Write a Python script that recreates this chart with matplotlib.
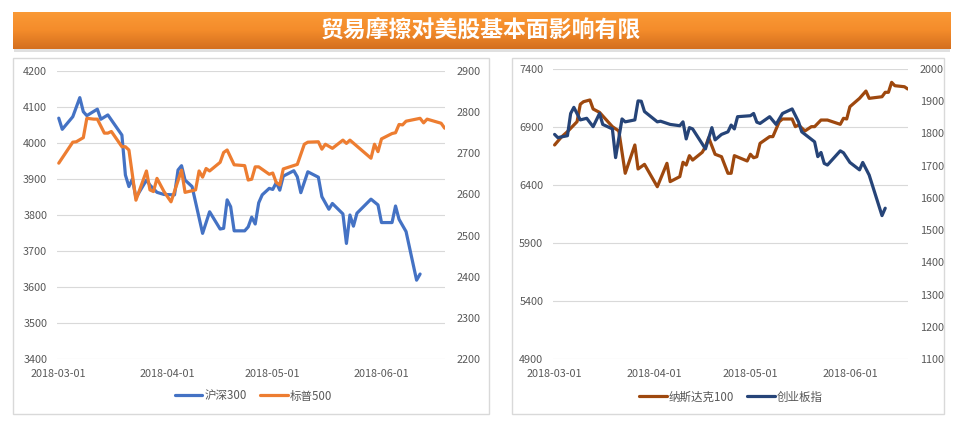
import matplotlib
matplotlib.use("Agg")
import matplotlib.pyplot as plt
import matplotlib.dates as mdates
from matplotlib.patches import Rectangle
from matplotlib.colors import LinearSegmentedColormap
import numpy as np
import pandas as pd

plt.rcParams['font.family'] = ['Noto Sans CJK SC', 'DejaVu Sans']

# ---------------- data ----------------
title = "贸易摩擦对美股基本面影响有限"
x_ticks = ["2018-03-01", "2018-04-01", "2018-05-01", "2018-06-01"]

hs300_dates = ["03-01", "03-02", "03-05", "03-07", "03-08", "03-09", "03-12", "03-13", "03-15", "03-19",
               "03-20", "03-21", "03-22", "03-23", "03-26", "03-27", "03-29", "03-31", "04-03", "04-04",
               "04-05", "04-06", "04-08", "04-11", "04-13", "04-16", "04-17", "04-18", "04-19", "04-20",
               "04-23", "04-24", "04-25", "04-26", "04-27", "04-28", "04-30", "05-01", "05-02", "05-03",
               "05-04", "05-07", "05-08", "05-09", "05-11", "05-14", "05-15", "05-17", "05-18", "05-21",
               "05-22", "05-23", "05-24", "05-25", "05-29", "05-31", "06-01", "06-04", "06-05", "06-06",
               "06-08", "06-11", "06-12"]
hs300_values = [4069, 4038, 4073, 4126, 4087, 4076, 4094, 4066, 4078, 4022,
                3911, 3879, 3900, 3848, 3897, 3883, 3863, 3857, 3856, 3925,
                3937, 3897, 3879, 3749, 3809, 3761, 3763, 3842, 3823, 3756,
                3756, 3767, 3794, 3775, 3834, 3856, 3874, 3871, 3890, 3869,
                3908, 3923, 3906, 3862, 3920, 3905, 3851, 3816, 3832, 3803,
                3721, 3800, 3769, 3805, 3844, 3828, 3779, 3779, 3825, 3788,
                3754, 3619, 3636]

sp500_dates = ["03-01", "03-05", "03-06", "03-08", "03-09", "03-11", "03-12", "03-14", "03-15", "03-16",
               "03-19", "03-20", "03-21", "03-23", "03-26", "03-27", "03-28", "03-29", "03-31", "04-02",
               "04-05", "04-06", "04-09", "04-10", "04-11", "04-12", "04-13", "04-16", "04-17", "04-18",
               "04-20", "04-23", "04-24", "04-25", "04-26", "04-27", "04-30", "05-01", "05-02", "05-03",
               "05-04", "05-08", "05-10", "05-11", "05-14", "05-15", "05-16", "05-18", "05-21", "05-22",
               "05-23", "05-29", "05-30", "05-31", "06-01", "06-04", "06-05", "06-06", "06-07", "06-08",
               "06-12", "06-13", "06-14", "06-18", "06-19"]
sp500_values = [2676, 2727, 2728, 2738, 2785, 2783, 2783, 2749, 2749, 2753,
                2716, 2716, 2708, 2586, 2657, 2611, 2607, 2639, 2607, 2582,
                2659, 2605, 2611, 2657, 2642, 2663, 2657, 2678, 2702, 2708,
                2672, 2670, 2635, 2637, 2667, 2667, 2649, 2652, 2629, 2623,
                2662, 2673, 2722, 2727, 2728, 2710, 2722, 2712, 2732, 2724,
                2732, 2688, 2722, 2704, 2735, 2748, 2750, 2770, 2769, 2778,
                2785, 2774, 2783, 2773, 2761]

ndx_dates = ["03-01", "03-03", "03-05", "03-08", "03-09", "03-10", "03-12", "03-13", "03-15", "03-19",
             "03-21", "03-23", "03-26", "03-27", "03-29", "04-02", "04-05", "04-06", "04-09", "04-10",
             "04-11", "04-12", "04-13", "04-16", "04-17", "04-18", "04-20", "04-22", "04-24", "04-25",
             "04-26", "04-30", "05-01", "05-02", "05-03", "05-04", "05-07", "05-08", "05-10", "05-11",
             "05-14", "05-15", "05-16", "05-18", "05-20", "05-21", "05-23", "05-25", "05-29", "05-30",
             "05-31", "06-01", "06-04", "06-06", "06-07", "06-11", "06-12", "06-13", "06-14", "06-15",
             "06-18", "06-19"]
ndx_values = [6745, 6810, 6860, 6946, 7096, 7118, 7133, 7055, 7026, 6903,
              6866, 6501, 6745, 6538, 6578, 6385, 6587, 6429, 6472, 6596,
              6572, 6653, 6615, 6682, 6730, 6808, 6665, 6644, 6501, 6501,
              6653, 6607, 6665, 6635, 6644, 6759, 6817, 6817, 6946, 6969,
              6969, 6903, 6917, 6866, 6903, 6903, 6960, 6960, 6923, 6975,
              6969, 7075, 7147, 7210, 7147, 7161, 7199, 7199, 7285, 7256,
              7247, 7228]

cyb_dates = ["03-01", "03-02", "03-05", "03-06", "03-07", "03-09", "03-11", "03-13", "03-15", "03-16",
             "03-19", "03-20", "03-22", "03-23", "03-26", "03-27", "03-28", "03-29", "04-02", "04-03",
             "04-06", "04-09", "04-10", "04-11", "04-12", "04-13", "04-17", "04-19", "04-20", "04-22",
             "04-24", "04-25", "04-26", "04-27", "05-01", "05-02", "05-03", "05-04", "05-07", "05-09",
             "05-11", "05-14", "05-16", "05-17", "05-21", "05-22", "05-23", "05-24", "05-25", "05-29",
             "05-30", "06-01", "06-04", "06-05", "06-07", "06-11", "06-12"]
cyb_values = [1797, 1787, 1793, 1862, 1881, 1842, 1847, 1821, 1862, 1828,
              1814, 1725, 1845, 1836, 1842, 1901, 1900, 1868, 1836, 1838,
              1828, 1824, 1836, 1783, 1818, 1814, 1752, 1818, 1780, 1797,
              1805, 1826, 1814, 1852, 1855, 1862, 1835, 1831, 1852, 1828,
              1862, 1876, 1836, 1805, 1774, 1728, 1741, 1707, 1702, 1746,
              1740, 1710, 1687, 1710, 1671, 1545, 1568]

labels_left = ["沪深300", "标普500"]
labels_right = ["纳斯达克100", "创业板指"]


def to_dates(lst):
    return pd.to_datetime(["2018-" + s for s in lst])


# ---------------- figure ----------------
W, H = 967, 422
fig = plt.figure(figsize=(W / 100, H / 100), dpi=100)
fig.patch.set_facecolor("white")


def fx(px):
    return px / W


def fy(py):
    return 1 - py / H


# banner shadow
fig.patches.append(Rectangle((fx(14), fy(52)), fx(950 - 14), (52 - 14) / H,
                             transform=fig.transFigure, facecolor="#BBBBBB",
                             edgecolor="none", alpha=0.45, zorder=-3))
# banner gradient
bax = fig.add_axes([fx(12.7), fy(49.3), fx(950 - 12.7), (49.3 - 11.7) / H], zorder=1)
cmap = LinearSegmentedColormap.from_list("ban", ["#FA9A36", "#F48C2B", "#D46F1E"])
bax.imshow(np.linspace(0, 1, 64).reshape(-1, 1), aspect="auto", cmap=cmap,
           extent=[0, 1, 0, 1], origin="upper")
bax.set_axis_off()
fig.text(fx(481), fy(31), title, ha="center", va="center", color="white",
         fontsize=16.5, fontweight="bold", zorder=5)

# panels
for (x0, x1) in [(13, 489), (512, 944)]:
    fig.patches.append(Rectangle((fx(x0), fy(414)), fx(x1 - x0), (414 - 58) / H,
                                 transform=fig.transFigure, facecolor="white",
                                 edgecolor="#D9D9D9", lw=1.0, zorder=-2))

tick_color = "#595959"
grid_color = "#D9D9D9"
fs = 7.8
fs_leg = 8.3
xt = pd.to_datetime(x_ticks)
xlim = (mdates.date2num(pd.Timestamp("2018-03-01")) - 0.5,
        mdates.date2num(pd.Timestamp("2018-06-19")) + 0.1)


def style(ax, axb, ylim, yticks, ylimb, yticksb):
    for a in (ax, axb):
        for s in a.spines.values():
            s.set_visible(False)
        a.tick_params(length=0, labelsize=fs, labelcolor=tick_color)
    ax.set_ylim(*ylim)
    ax.set_yticks(yticks)
    axb.set_ylim(*ylimb)
    axb.set_yticks(yticksb)
    ax.grid(axis="y", color=grid_color, lw=0.8)
    ax.set_axisbelow(True)
    ax.set_xlim(*xlim)
    ax.set_xticks(xt)
    ax.xaxis.set_major_formatter(mdates.DateFormatter("%Y-%m-%d"))
    ax.tick_params(axis="y", pad=7)
    axb.tick_params(axis="y", pad=8.5)
    ax.tick_params(axis="x", pad=7)
    ax.patch.set_alpha(0)


# left chart
ax1 = fig.add_axes([fx(57), fy(359), fx(445 - 57), (359 - 71) / H])
ax1b = ax1.twinx()
l1, = ax1.plot(to_dates(hs300_dates), hs300_values, color="#4472C4", lw=2.3,
               solid_joinstyle="round", solid_capstyle="round")
l2, = ax1b.plot(to_dates(sp500_dates), sp500_values, color="#ED7D31", lw=2.3,
                solid_joinstyle="round", solid_capstyle="round")
style(ax1, ax1b, (3400, 4200), range(3400, 4201, 100), (2200, 2900), range(2200, 2901, 100))
ax1.legend([l1, l2], labels_left, loc="center", bbox_to_anchor=(fx(253.5), fy(396)),
           bbox_transform=fig.transFigure, ncol=2, frameon=False, handlelength=2.4,
           handletextpad=0.2, columnspacing=1.1, fontsize=fs_leg, labelcolor=tick_color)

# right chart
ax2 = fig.add_axes([fx(553), fy(359), fx(908 - 553), (359 - 69) / H])
ax2b = ax2.twinx()
l3, = ax2.plot(to_dates(ndx_dates), ndx_values, color="#9E480E", lw=2.3,
               solid_joinstyle="round", solid_capstyle="round")
l4, = ax2b.plot(to_dates(cyb_dates), cyb_values, color="#264478", lw=2.3,
                solid_joinstyle="round", solid_capstyle="round")
style(ax2, ax2b, (4900, 7400), range(4900, 7401, 500), (1100, 2000), range(1100, 2001, 100))
ax2.legend([l3, l4], labels_right, loc="center", bbox_to_anchor=(fx(731), fy(397)),
           bbox_transform=fig.transFigure, ncol=2, frameon=False, handlelength=2.4,
           handletextpad=0.2, columnspacing=1.1, fontsize=fs_leg, labelcolor=tick_color)

fig.savefig("out.png", dpi=100, facecolor="white")
